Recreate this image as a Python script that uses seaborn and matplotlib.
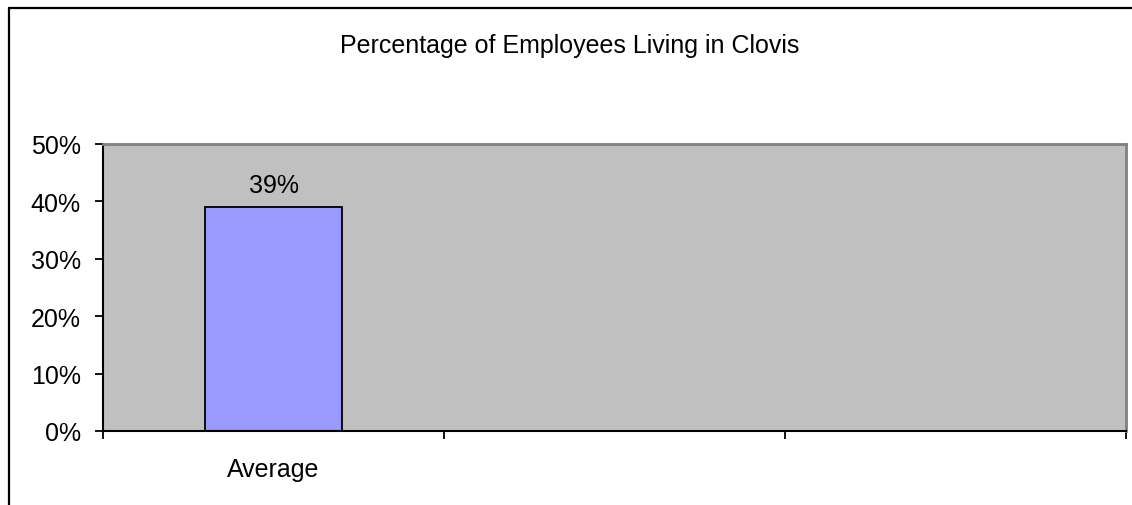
import matplotlib
matplotlib.use("Agg")
import matplotlib.pyplot as plt
from matplotlib.lines import Line2D
import numpy as np
import pandas as pd
import seaborn as sns

categories = ["Average", "Group 2", "Group 3"]
tick_labels = ["Average", "", ""]
values = [0.39, np.nan, np.nan]
value_labels = ["39%", "", ""]
y_ticks = [0.0, 0.1, 0.2, 0.3, 0.4, 0.5]
y_tick_labels = ["0%", "10%", "20%", "30%", "40%", "50%"]
title = "Percentage of Employees Living in Clovis"

sns.set_style("white")
plt.rcParams["font.family"] = ["Liberation Sans", "DejaVu Sans"]
plt.rcParams["text.color"] = "black"
plt.rcParams["xtick.color"] = "black"
plt.rcParams["ytick.color"] = "black"

W, H = 1132, 506
FS = 18
fig = plt.figure(figsize=(W / 100, H / 100), dpi=100)
ax = fig.add_axes([103 / W, 1 - 432 / H, (1126 - 103) / W, (432 - 145) / H])

df = pd.DataFrame({"category": categories, "share": values})
sns.barplot(data=df, x="category", y="share", order=categories,
            color="#9999FF", edgecolor="black", linewidth=1.3,
            width=0.4, saturation=1, ax=ax)

ax.set_facecolor("#C0C0C0")
ax.set_xlim(-0.5, len(categories) - 0.5)
ax.set_ylim(0, 0.5)
ax.set_xlabel("")
ax.set_ylabel("")

for side in ("top", "right"):
    ax.spines[side].set_color("#808080")
    ax.spines[side].set_linewidth(2)
for side in ("left", "bottom"):
    ax.spines[side].set_color("black")
    ax.spines[side].set_linewidth(1.5)

ax.set_yticks(y_ticks)
ax.set_yticklabels(y_tick_labels, fontsize=FS, color="black")
ax.tick_params(axis="y", direction="out", length=6, width=1.3, color="black",
               left=True, pad=10)
for t in ax.get_yticklabels():
    t.set_va("center_baseline")

ax.set_xticks(range(len(categories)))
ax.set_xticklabels(tick_labels, fontsize=FS, color="black")
ax.set_xticks(np.arange(-0.5, len(categories)), minor=True)
ax.tick_params(axis="x", which="major", length=0, pad=19)
ax.tick_params(axis="x", which="minor", direction="out", length=6, width=1.3,
               color="black", bottom=True)

for i, (v, lab) in enumerate(zip(values, value_labels)):
    if lab:
        ax.annotate(lab, (i, v), xytext=(0, 11), textcoords="offset points",
                    ha="center", va="baseline", fontsize=FS, color="black")

fig.text(570 / W, 1 - 53 / H, title, ha="center", va="baseline",
         fontsize=FS, color="black")

fig.add_artist(Line2D([8.5 / W, 1], [1 - 8.5 / H, 1 - 8.5 / H],
                      transform=fig.transFigure, color="black", linewidth=1.6))
fig.add_artist(Line2D([8.5 / W, 8.5 / W], [0, 1 - 8.5 / H],
                      transform=fig.transFigure, color="black", linewidth=1.6))

fig.savefig("out.png", dpi=100)
